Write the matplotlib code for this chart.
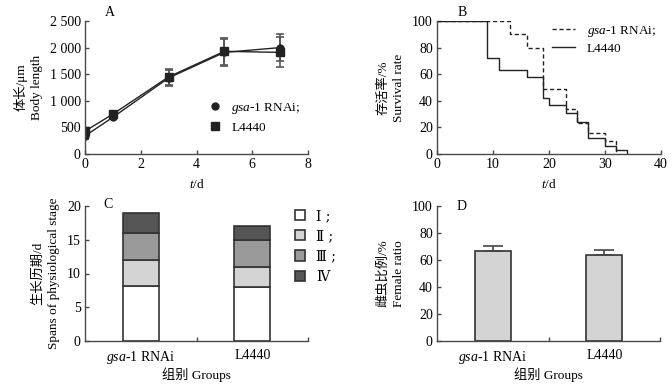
import matplotlib
matplotlib.use('Agg')
import matplotlib.pyplot as plt
from matplotlib.patches import Patch
from matplotlib.lines import Line2D

plt.rcParams['font.family'] = ['Liberation Serif', 'Noto Sans CJK SC']
plt.rcParams['font.size'] = 10
plt.rcParams['mathtext.fontset'] = 'custom'
plt.rcParams['mathtext.rm'] = 'Liberation Serif'
plt.rcParams['mathtext.it'] = 'Liberation Serif:italic'

GSA = r'$\mathit{gsa}$-$\mathit{1}$ RNAi'

# A: body length
days = [0, 1, 3, 5, 7]
len_gsa = [340, 690, 1430, 1910, 2000]
err_gsa = [50, 40, 150, 260, 260]
len_ctrl = [430, 750, 1450, 1930, 1910]
err_ctrl = [50, 40, 155, 250, 280]

# B: survival (step curves)
t_gsa = [0, 13, 16, 19, 23, 25, 27, 30, 32]
surv_gsa = [100, 90, 80, 49, 34, 23, 16, 10, 0]
t_ctrl = [0, 9, 11, 16, 19, 20, 23, 25, 27, 30, 32, 34]
surv_ctrl = [100, 72, 63, 58, 42, 37, 31, 24, 12, 6, 3, 0]

# C: stage spans
groups = [GSA, 'L4440']
stage_labels = ['Ⅰ ;', 'Ⅱ ;', 'Ⅲ ;', 'Ⅳ']
stage_I = [8.2, 8.0]
stage_II = [3.8, 3.0]
stage_III = [4.0, 4.0]
stage_IV = [3.0, 2.0]
stage_colors = ['white', '#d4d4d4', '#9a9a9a', '#555555']

# D: female ratio
female = [66.5, 64.0]
female_err = [4.0, 3.5]

W, H = 672, 387
fig = plt.figure(figsize=(W / 100, H / 100), dpi=100)

def make_ax(l, t, r, b):
    return fig.add_axes([l / W, 1 - b / H, (r - l) / W, (b - t) / H])

def panel_label(x, y, s):
    # x, y in pixels from top-left
    fig.text(x / W, 1 - y / H, s, fontsize=10, ha='center', va='center')

ink = '#222222'
spine_c = '#4a4a4a'
LAB = 9.5

def style(ax):
    for s in ['top', 'right']:
        ax.spines[s].set_visible(False)
    for s in ['left', 'bottom']:
        ax.spines[s].set_color(spine_c)
        ax.spines[s].set_linewidth(1.0)
    ax.tick_params(direction='in', length=3, width=1.0, color=spine_c, labelsize=10, pad=3)

def thousands(v):
    v = int(v)
    return f'{v // 1000} {v % 1000:03d}' if v >= 1000 else str(v)

# ---- A
ax = make_ax(85, 21, 308, 154)
style(ax)
ax.errorbar(days, len_gsa, yerr=err_gsa, color=ink, ecolor='#555555', marker='o', ms=5,
            lw=1.0, elinewidth=1.2, capsize=3, capthick=1.2)
ax.errorbar(days, len_ctrl, yerr=err_ctrl, color=ink, ecolor='#555555', marker='s', ms=5.5,
            lw=1.0, elinewidth=1.2, capsize=3, capthick=1.2)
ax.set_xlim(0, 8)
ax.set_ylim(0, 2500)
ax.set_xticks([0, 2, 4, 6, 8])
ax.set_yticks([0, 500, 1000, 1500, 2000, 2500])
ax.set_yticklabels([thousands(v) for v in [0, 500, 1000, 1500, 2000, 2500]])
ax.set_xlabel(r'$t$/d', labelpad=5, fontsize=LAB)
ax.set_ylabel('体长/μm\nBody length', labelpad=5, linespacing=1.4, fontsize=LAB)
panel_label(110, 13, 'A')
handles = [Line2D([], [], color=ink, marker='o', ls='none', ms=5),
           Line2D([], [], color=ink, marker='s', ls='none', ms=6)]
ax.legend(handles, [GSA + ';', 'L4440'], loc='lower right', bbox_to_anchor=(0.99, 0.11),
          frameon=False, handletextpad=0.2, labelspacing=0.45, borderaxespad=0, fontsize=9.5)

# ---- B
ax = make_ax(437, 21, 661, 154)
style(ax)
ax.step(t_gsa, surv_gsa, where='post', color=ink, ls=(0, (3, 2)), lw=1.0)
ax.step(t_ctrl, surv_ctrl, where='post', color=ink, lw=1.0)
ax.set_xlim(0, 40)
ax.set_ylim(0, 100)
ax.set_xticks([0, 10, 20, 30, 40])
ax.set_yticks([0, 20, 40, 60, 80, 100])
ax.set_xlabel(r'$t$/d', labelpad=5, fontsize=LAB)
ax.set_ylabel('存活率/%\nSurvival rate', labelpad=5, linespacing=1.4, fontsize=LAB)
panel_label(462, 12, 'B')
handles = [Line2D([], [], color=ink, ls=(0, (3, 2)), lw=1.0),
           Line2D([], [], color=ink, lw=1.0)]
ax.legend(handles, [GSA + ';', 'L4440'], loc='upper right', bbox_to_anchor=(1.0, 1.02),
          frameon=False, handlelength=1.7, handletextpad=0.9, labelspacing=0.3,
          borderaxespad=0, fontsize=9.5)

# ---- C
ax = make_ax(85, 206, 308, 341)
style(ax)
pos = [1, 2]
bottom = [0, 0]
for vals, col, lab in zip([stage_I, stage_II, stage_III, stage_IV], stage_colors, stage_labels):
    ax.bar(pos, vals, 0.32, bottom=bottom, color=col, edgecolor='#333333', linewidth=1.2, label=lab)
    bottom = [b + v for b, v in zip(bottom, vals)]
ax.set_xlim(0.5, 2.5)
ax.set_ylim(0, 20)
ax.set_yticks([0, 5, 10, 15, 20])
ax.set_xticks(pos)
ax.set_xticklabels(groups)
ax.tick_params(axis='x', length=0, pad=6)
ax.set_xticks([1.5, 2.5], minor=True)
ax.tick_params(axis='x', which='minor', direction='in', length=3, width=1.0, color=spine_c)
ax.set_xlabel('组别 Groups', labelpad=1, fontsize=LAB)
ax.set_ylabel('生长历期/d\nSpans of physiological stage', labelpad=5, linespacing=1.4, fontsize=LAB)
panel_label(108, 205, 'C')
patches = [Patch(facecolor=c, edgecolor='#333333', linewidth=1.2) for c in stage_colors]
leg = ax.legend(patches, stage_labels, loc='upper left', bbox_to_anchor=(0.915, 1.02), frameon=False,
                handlelength=0.75, handleheight=0.75, handletextpad=0.8, labelspacing=0.45,
                borderaxespad=0, fontsize=10)
for t in leg.get_texts():
    t.set_family(['DejaVu Serif', 'Noto Sans CJK SC'])

# ---- D
ax = make_ax(437, 206, 660, 341)
style(ax)
ax.bar(pos, female, 0.32, color='#d4d4d4', edgecolor='#333333', linewidth=1.2)
ax.errorbar(pos, female, yerr=[[0, 0], female_err], fmt='none', ecolor='#444444',
            elinewidth=1.2, capsize=7, capthick=1.2)
ax.set_xlim(0.5, 2.5)
ax.set_ylim(0, 100)
ax.set_yticks([0, 20, 40, 60, 80, 100])
ax.set_xticks(pos)
ax.set_xticklabels(groups)
ax.tick_params(axis='x', length=0, pad=6)
ax.set_xticks([1.5, 2.5], minor=True)
ax.tick_params(axis='x', which='minor', direction='in', length=3, width=1.0, color=spine_c)
ax.set_xlabel('组别 Groups', labelpad=1, fontsize=LAB)
ax.set_ylabel('雌虫比例/%\nFemale ratio', labelpad=5, linespacing=1.4, fontsize=LAB)
panel_label(462, 206, 'D')

fig.savefig('out.png', dpi=100)
